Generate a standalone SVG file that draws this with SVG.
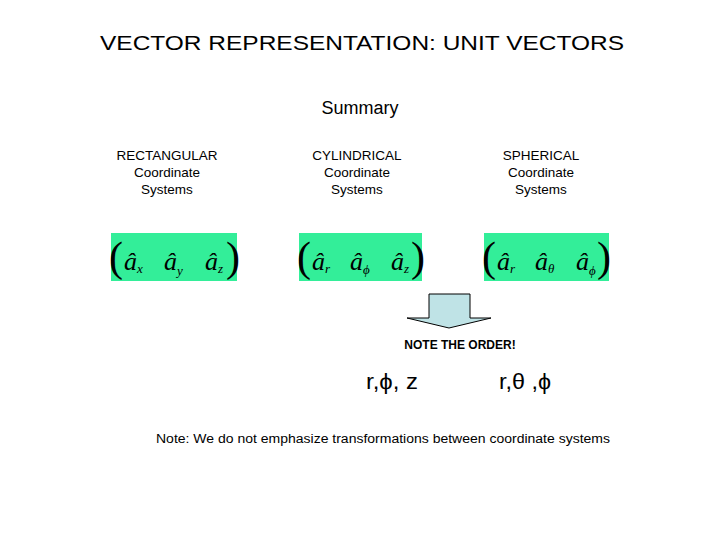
<svg xmlns="http://www.w3.org/2000/svg" width="720" height="540" viewBox="0 0 720 540">
<style>
.s{font-family:"Liberation Sans",Arial,sans-serif;fill:#000}
.m{font-family:"Liberation Serif","Times New Roman",serif;font-style:italic;fill:#000}
.p{font-family:"Liberation Serif","Times New Roman",serif;fill:#000;font-size:42px}
.g{fill:#33ee99}
</style>
<rect width="720" height="540" fill="#fff"/>
<text class="s" x="362" y="50" font-size="21" text-anchor="middle" textLength="524" lengthAdjust="spacingAndGlyphs">VECTOR REPRESENTATION: UNIT VECTORS</text>
<text class="s" x="360" y="114" font-size="18" text-anchor="middle">Summary</text>
<g id="rect" class="s" font-size="13.5" text-anchor="middle">
<text x="167" y="160">RECTANGULAR</text><text x="167" y="177">Coordinate</text><text x="167" y="194">Systems</text></g>
<g id="cyl" class="s" font-size="13.5" text-anchor="middle">
<text x="357" y="160">CYLINDRICAL</text><text x="357" y="177">Coordinate</text><text x="357" y="194">Systems</text></g>
<g id="sph" class="s" font-size="13.5" text-anchor="middle">
<text x="541" y="160">SPHERICAL</text><text x="541" y="177">Coordinate</text><text x="541" y="194">Systems</text></g>
<g id="vrect"><rect class="g" x="111" y="233" width="126" height="48"/>
<text class="p" x="109" y="271">(</text>
<text class="m" font-size="26" x="124" y="270">â</text><text class="m" font-size="13" x="137" y="273">x</text>
<text class="m" font-size="26" x="164" y="270">â</text><text class="m" font-size="13" x="177" y="275">y</text>
<text class="m" font-size="26" x="205" y="270">â</text><text class="m" font-size="13" x="218" y="273">z</text>
<text class="p" x="226" y="271">)</text></g>
<g id="vcyl"><rect class="g" x="299" y="233" width="123" height="48"/>
<text class="p" x="297" y="271">(</text>
<text class="m" font-size="26" x="312" y="270">â</text><text class="m" font-size="13" x="325" y="273">r</text>
<text class="m" font-size="26" x="350" y="270">â</text><text class="m" font-size="13" x="363" y="274">ϕ</text>
<text class="m" font-size="26" x="391" y="270">â</text><text class="m" font-size="13" x="404" y="273">z</text>
<text class="p" x="411" y="271">)</text></g>
<g id="vsph"><rect class="g" x="484" y="233" width="125" height="48"/>
<text class="p" x="482" y="271">(</text>
<text class="m" font-size="26" x="497" y="270">â</text><text class="m" font-size="13" x="510" y="273">r</text>
<text class="m" font-size="26" x="535" y="270">â</text><text class="m" font-size="13" x="548" y="273">θ</text>
<text class="m" font-size="26" x="576" y="270">â</text><text class="m" font-size="13" x="589" y="275">ϕ</text>
<text class="p" x="597" y="271">)</text></g>
<g id="connectors">
<path d="M429 294 H470 V318 H491 L449 328 L407 318 H429 Z" fill="#bfe3e6" stroke="#000" stroke-width="1"/>
</g>
<text class="s" x="460" y="349" font-size="12" font-weight="bold" text-anchor="middle">NOTE THE ORDER!</text>
<text class="s" x="366" y="389" font-size="22" textLength="52" lengthAdjust="spacingAndGlyphs">r,ϕ, z</text>
<text class="s" x="499" y="389" font-size="22" textLength="52" lengthAdjust="spacingAndGlyphs">r,θ ,ϕ</text>
<text class="s" x="156" y="443" font-size="12.5" textLength="454" lengthAdjust="spacingAndGlyphs">Note: We do not emphasize transformations between coordinate systems</text>
</svg>
